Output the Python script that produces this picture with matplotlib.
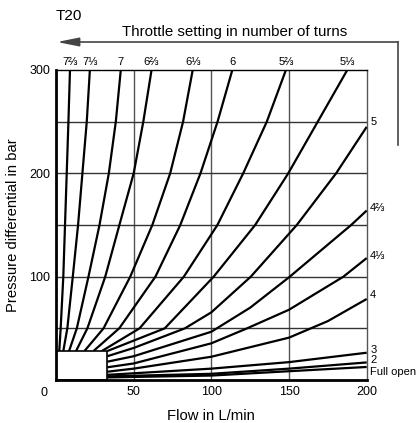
import matplotlib
matplotlib.use("Agg")
import matplotlib.pyplot as plt
from matplotlib.lines import Line2D
from matplotlib.patches import Rectangle

plt.rcParams['font.family'] = ['Liberation Sans', 'DejaVu Sans']

# ---------------- data ----------------
# steep curves: flow (L/min) at given pressure levels (bar)
pressure_levels = [28, 50, 100, 150, 200, 250, 300]
steep_labels = ["7⅔", "7⅓", "7", "6⅔", "6⅓", "6", "5⅔", "5⅓"]
flow_7_23 = [2.1, 3.0, 4.7, 5.8, 6.9, 8.0, 9.0]
flow_7_13 = [4.7, 7.3, 10.8, 14.2, 17.0, 19.8, 21.8]
flow_7 = [8.4, 13.4, 20.9, 28.0, 34.0, 38.5, 41.7]
flow_6_23 = [12.9, 20.2, 31.7, 40.8, 50.0, 56.2, 61.5]
flow_6_13 = [18.3, 30.6, 47.8, 62.0, 73.5, 81.8, 88.0]
flow_6 = [24.1, 40.7, 64.0, 80.0, 93.0, 104.0, 113.5]
flow_5_23 = [29.5, 53.8, 82.3, 103.9, 120.5, 135.7, 148.0]
flow_5_13 = [33.0, 70.0, 101.5, 128.2, 149.5, 168.5, 187.5]
steep_flows = [flow_7_23, flow_7_13, flow_7, flow_6_23, flow_6_13,
               flow_6, flow_5_23, flow_5_13]

# shallow curves: pressure (bar) at given flows (L/min)
shallow_labels = ["5", "4⅔", "4⅓", "4", "3", "2", "Full open"]
q_5 = [33, 50, 83, 100, 125.4, 155, 180.3, 200]
p_5 = [23, 31, 50, 65.5, 100, 150, 200, 245]
q_4_23 = [33, 50, 100, 125, 150, 190, 200]
p_4_23 = [17.7, 23, 46.7, 70, 99.4, 150, 164]
q_4_13 = [33, 50, 100, 123, 150, 185, 200]
p_4_13 = [12.3, 16, 35.5, 50, 68, 100, 118]
q_4 = [33, 50, 100, 150, 175, 200]
p_4 = [8, 11, 22.5, 41, 57, 78.4]
q_3 = [33, 50, 100, 150, 200]
p_3 = [5, 6.5, 11, 17.3, 26.4]
q_2 = [33, 100, 150, 200]
p_2 = [3.5, 6, 11, 17]
q_open = [33, 100, 150, 200]
p_open = [2.5, 4.3, 8.5, 12.6]
shallow_q = [q_5, q_4_23, q_4_13, q_4, q_3, q_2, q_open]
shallow_p = [p_5, p_4_23, p_4_13, p_4, p_3, p_2, p_open]

# hidden region box (L/min, bar)
box_flow = 33
box_pressure = 28

x_ticks = [50, 100, 150, 200]
y_ticks = [100, 200, 300]
grid_x = [50, 100, 150]
grid_y = [50, 100, 150, 200, 250]

# ---------------- layout ----------------
W, H = 420, 423
fig = plt.figure(figsize=(W / 100, H / 100), dpi=100)
ax = fig.add_axes([56 / W, 1 - 380 / H, (366.7 - 56) / W, (380 - 70) / H])
ax.set_xlim(0, 200)
ax.set_ylim(0, 300)

for gx in grid_x:
    ax.axvline(gx, color='#555555', lw=1.0, zorder=1)
for gy in grid_y:
    ax.axhline(gy, color='#333333', lw=1.0, zorder=1)

line_kw = dict(color='black', lw=1.6, zorder=3, solid_capstyle='butt',
               solid_joinstyle='round')
for fl, lab in zip(steep_flows, steep_labels):
    ax.plot(fl, pressure_levels, **line_kw)
    ax.annotate(lab, xy=(fl[-1], pressure_levels[-1]), xytext=(0, 2.5),
                textcoords='offset points', ha='center', va='bottom',
                fontsize=8, annotation_clip=False)

right_offsets = [3.5, 1.5, 1.5, 2.7, 1.8, 2.0, -3.6]
for q, p, lab, dy in zip(shallow_q, shallow_p, shallow_labels, right_offsets):
    ax.plot(q, p, **line_kw)
    ax.annotate(lab, xy=(q[-1], p[-1]), xytext=(2.5, dy),
                textcoords='offset points', ha='left', va='center',
                fontsize=8, annotation_clip=False)

ax.add_patch(Rectangle((0, 0), box_flow, box_pressure, facecolor='white',
                       edgecolor='black', lw=1.2, zorder=4))

ax.set_xticks(x_ticks)
ax.set_yticks(y_ticks)
ax.tick_params(length=0, labelsize=9, pad=4)
ax.text(-0.028, -0.022, "0", transform=ax.transAxes, ha='right', va='top',
        fontsize=9)

for side in ['left', 'bottom']:
    ax.spines[side].set_linewidth(2.0)
    ax.spines[side].set_color('black')
    ax.spines[side].set_zorder(5)
ax.spines['top'].set_linewidth(1.0)
ax.spines['top'].set_color('black')
ax.spines['right'].set_linewidth(1.0)
ax.spines['right'].set_color('#555555')

ax.set_xlabel("Flow in L/min", fontsize=10.7, labelpad=8)
ax.set_ylabel("Pressure differential in bar", fontsize=10.7, labelpad=7)

# title and throttle arrow
fig.text(56 / W, 1 - 16 / H, "T20", ha='left', va='center', fontsize=11)
fig.text(235 / W, 1 - 32 / H, "Throttle setting in number of turns",
         ha='center', va='center', fontsize=10.8)
ya = 1 - 42 / H
ax.annotate('', xy=(57 / W, ya), xytext=(398 / W, ya),
            xycoords='figure fraction', textcoords='figure fraction',
            arrowprops=dict(arrowstyle='-|>,head_length=1.1,head_width=0.22',
                            color='#444444', lw=1.2, shrinkA=0, shrinkB=0,
                            mutation_scale=12), annotation_clip=False)
fig.add_artist(Line2D([398 / W, 398 / W], [ya, 1 - 145 / H],
                      transform=fig.transFigure, color='#444444', lw=1.2))

fig.savefig("out.png", dpi=100)
